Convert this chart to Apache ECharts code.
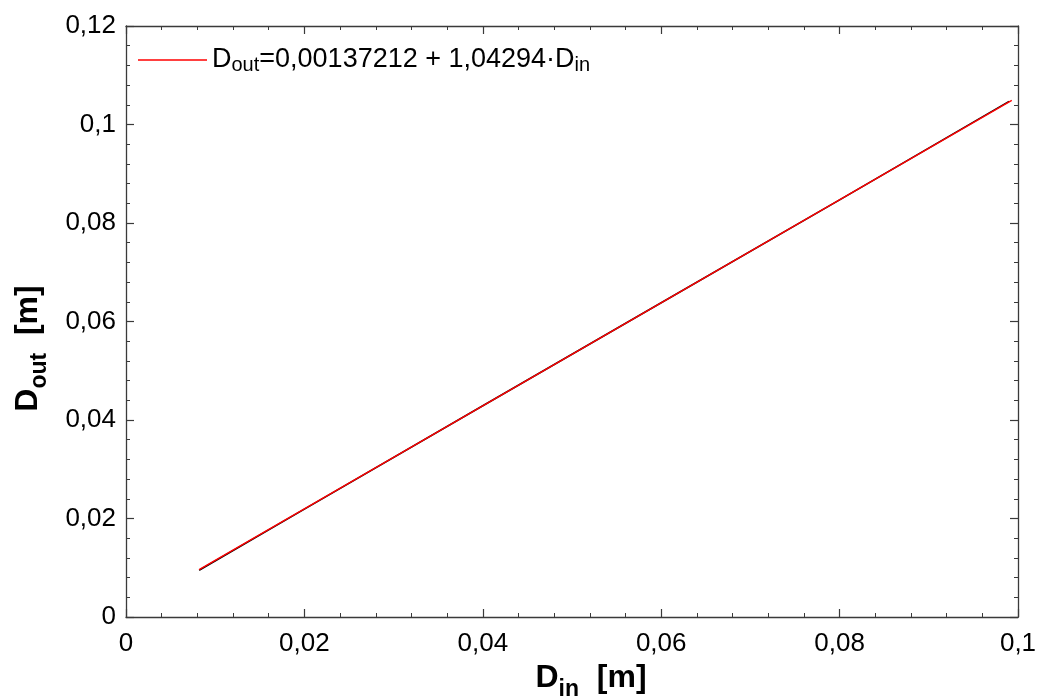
<!DOCTYPE html>
<html>
<head>
<meta charset="utf-8">
<script src="https://cdn.jsdelivr.net/npm/echarts@6/dist/echarts.min.js"></script>
<style>
html,body{margin:0;padding:0;background:#fff;}
#c{width:1038px;height:698px;}
</style>
</head>
<body>
<div id="c"></div>
<script>
// Data
const measured = [[0.0082,0.0095],[0.02,0.0219],[0.04,0.0429],[0.06,0.0638],[0.08,0.0847],[0.099,0.1047]];
const fitLine = [[0.0082,0.0096],[0.0993,0.1049]];
const xTicks = [0,0.02,0.04,0.06,0.08,0.1];
const yTicks = [0,0.02,0.04,0.06,0.08,0.1,0.12];

const FONT = '"Liberation Sans", Arial, Helvetica, sans-serif';
const AX = '#3a3a3a';
const fmt = v => String(+(+v).toFixed(4)).replace('.', ',');

const baseAxis = {
  axisLine:{show:true,onZero:false,lineStyle:{color:AX,width:1.3}},
  axisTick:{show:true,inside:true,length:8,lineStyle:{color:AX,width:1.2}},
  minorTick:{show:true,splitNumber:5,length:4,lineStyle:{color:AX,width:1}},
  splitLine:{show:false},
  axisLabel:{show:false}
};

const titleRich = {
  m:{fontSize:32,fontWeight:'bold',fontFamily:FONT,color:'#000',lineHeight:30,verticalAlign:'top'},
  s:{fontSize:23,fontWeight:'bold',fontFamily:FONT,color:'#000',lineHeight:22,verticalAlign:'top',padding:[16,0,0,0]}
};

const chart = echarts.init(document.getElementById('c'));
chart.setOption({
  animation:false,
  backgroundColor:'#fff',
  textStyle:{fontFamily:FONT},
  grid:{left:126,right:20,top:26,bottom:81,containLabel:false,outerBoundsMode:'none'},
  legend:{
    data:['fit'],
    left:138,top:46,padding:0,
    icon:'rect',itemWidth:69,itemHeight:1.3,itemGap:10,
    formatter:()=>'{m|D}{s|out}{m|=0,00137212 + 1,04294·D}{s|in}',
    textStyle:{fontFamily:FONT,color:'#000',
      rich:{
        m:{fontSize:27,fontFamily:FONT,color:'#000',lineHeight:28,verticalAlign:'top'},
        s:{fontSize:20,fontFamily:FONT,color:'#000',lineHeight:20,verticalAlign:'top',padding:[9,0,0,0]}
      }}
  },
  xAxis:[
    Object.assign({}, baseAxis, {
      type:'value',position:'bottom',min:0,max:0.1,interval:0.02,
      axisLabel:{show:true,margin:14,fontSize:26,color:'#000',fontFamily:FONT,formatter:fmt},
      name:'{m|D}{s|in}{m|  [m]}',
      nameLocation:'middle',nameGap:37,
      nameTextStyle:{padding:[0,0,0,38],rich:titleRich}
    }),
    Object.assign({}, baseAxis, {
      type:'value',position:'top',min:0,max:0.1,interval:0.02
    })
  ],
  yAxis:[
    Object.assign({}, baseAxis, {
      type:'value',position:'left',min:0,max:0.12,interval:0.02,
      axisLabel:{show:true,margin:10,fontSize:26,color:'#000',fontFamily:FONT,formatter:fmt},
      name:'{m|D}{s|out}{m|  [m]}',
      nameLocation:'middle',nameGap:84,
      nameTextStyle:{padding:[0,54,0,0],rich:titleRich}
    }),
    Object.assign({}, baseAxis, {
      type:'value',position:'right',min:0,max:0.12,interval:0.02
    })
  ],
  series:[
    {name:'data',type:'line',data:measured,showSymbol:false,symbol:'none',
     lineStyle:{color:'#000',width:1.6},xAxisIndex:0,yAxisIndex:0,z:2},
    {name:'fit',type:'line',data:fitLine,showSymbol:false,symbol:'none',
     lineStyle:{color:'#ff0000',width:1.4},itemStyle:{color:'#ff0000'},xAxisIndex:0,yAxisIndex:0,z:3}
  ]
});
</script>
</body>
</html>
